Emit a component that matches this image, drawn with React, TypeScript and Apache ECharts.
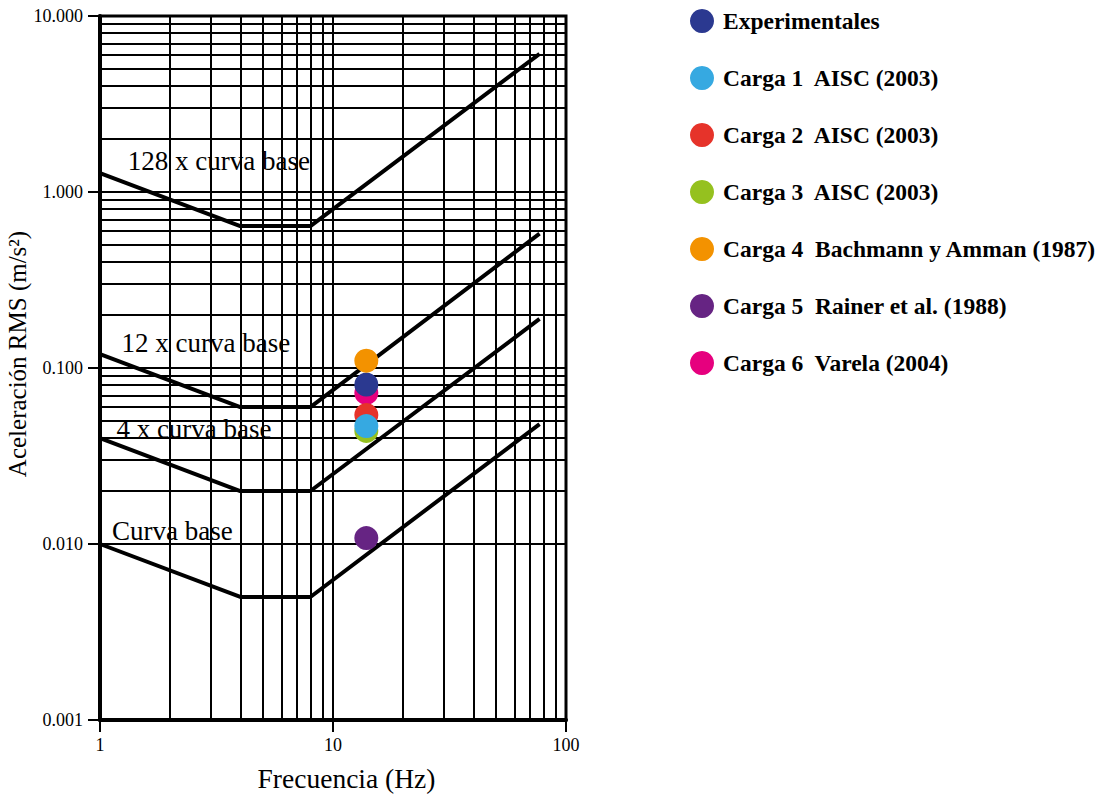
import React, { useEffect, useRef } from "react";
import * as echarts from "echarts";

const SERIF = "'Liberation Serif', 'Times New Roman', serif";

// Axis ticks / labels
const xTickLabels = ["1", "10", "100"];
const yTickLabels = ["0.001", "0.010", "0.100", "1.000", "10.000"];
// Log-paper minor grid positions
const xMinorGrid = [2, 3, 4, 5, 6, 7, 8, 9, 20, 30, 40, 50, 60, 70, 80, 90];
const yMinorGrid = [
  0.002, 0.003, 0.004, 0.005, 0.006, 0.007, 0.008, 0.009,
  0.02, 0.03, 0.04, 0.05, 0.06, 0.07, 0.08, 0.09,
  0.2, 0.3, 0.4, 0.5, 0.6, 0.7, 0.8, 0.9,
  2, 3, 4, 5, 6, 7, 8, 9,
];

// Curves [frequency Hz, acceleration m/s2]
const curveBase = [[1, 0.01], [4, 0.005], [8, 0.005], [77, 0.048]];
const curve4x = [[1, 0.04], [4, 0.02], [8, 0.02], [77, 0.19]];
const curve12x = [[1, 0.12], [4, 0.06], [8, 0.06], [77, 0.58]];
const curve128x = [[1, 1.28], [4, 0.64], [8, 0.64], [77, 6.1]];
const curveNames = ["Curva base", "4 x curva base", "12 x curva base", "128 x curva base"];
const curveLabelAt = [[1.12, 0.0118], [1.17, 0.0452], [1.23, 0.139], [1.31, 1.5]];

// Measured points
const legendNames = [
  "Experimentales",
  "Carga 1  AISC (2003)",
  "Carga 2  AISC (2003)",
  "Carga 3  AISC (2003)",
  "Carga 4  Bachmann y Amman (1987)",
  "Carga 5  Rainer et al. (1988)",
  "Carga 6  Varela (2004)",
];
const pointColors = ["#2b3990", "#36a9e1", "#e6332a", "#95c11f", "#f39200", "#662483", "#e6007e"];
const pointFreq = [13.9, 13.9, 13.9, 13.9, 13.9, 13.9, 13.9];
const pointAccel = [0.0805, 0.0468, 0.054, 0.0439, 0.11, 0.0108, 0.0722];
// drawing order (back to front)
const drawOrder = [6, 3, 2, 1, 0, 4, 5];

export default function App() {
  const ref = useRef<HTMLDivElement>(null);
  useEffect(() => {
    if (!ref.current) return;
    const chart = echarts.init(ref.current, undefined, { renderer: "svg" });
    const curves = [curveBase, curve4x, curve12x, curve128x];
    const curveSeries = curves.map((d, i) => ({
      type: "line",
      name: curveNames[i],
      data: d,
      showSymbol: false,
      symbol: "none",
      z: 3,
      silent: true,
      lineStyle: { color: "#000", width: 4 },
      markPoint: {
        silent: true,
        symbol: "circle",
        symbolSize: 1,
        itemStyle: { color: "rgba(0,0,0,0)" },
        label: {
          show: true,
          position: "right",
          distance: 0,
          formatter: curveNames[i],
          color: "#000",
          fontFamily: SERIF,
          fontSize: 27,
        },
        data: [{ coord: curveLabelAt[i] }],
      },
    }));
    const pointSeries = drawOrder.map((i) => ({
      type: "scatter",
      name: legendNames[i],
      data: [[pointFreq[i], pointAccel[i]]],
      symbol: "circle",
      symbolSize: 24,
      z: 5,
      itemStyle: { color: pointColors[i], opacity: 1 },
    }));
    chart.setOption({
      animation: false,
      backgroundColor: "#fff",
      grid: {
        left: 100,
        right: 538,
        top: 16,
        bottom: 74,
        show: true,
        borderColor: "#000",
        borderWidth: 3,
        backgroundColor: "transparent",
      },
      legend: {
        data: legendNames,
        orient: "vertical",
        left: 685,
        top: 4,
        itemWidth: 24,
        itemHeight: 24,
        itemGap: 33,
        icon: "circle",
        selectedMode: false,
        textStyle: {
          fontFamily: SERIF,
          fontWeight: "bold",
          fontSize: 23.5,
          color: "#000",
          lineHeight: 24,
          padding: [0, 0, 0, 4],
        },
      },
      xAxis: {
        type: "log",
        logBase: 10,
        min: 1,
        max: 100,
        name: "Frecuencia (Hz)",
        nameLocation: "middle",
        nameGap: 44,
        nameTextStyle: { fontFamily: SERIF, fontSize: 27.5, color: "#000", padding: [0, 0, 0, 27] },
        axisLine: { show: true, onZero: false, lineStyle: { color: "#000", width: 4 } },
        axisTick: { show: true, inside: false, length: 12, lineStyle: { color: "#000", width: 2 } },
        axisLabel: {
          margin: 16,
          fontFamily: SERIF,
          fontSize: 18,
          color: "#000",
          formatter: (v: number) => xTickLabels[Math.round(Math.log10(v))] ?? String(v),
        },
        splitLine: { show: true, lineStyle: { color: "#000", width: 2 } },
      },
      yAxis: {
        type: "log",
        logBase: 10,
        min: 0.001,
        max: 10,
        name: "Aceleración RMS (m/s²)",
        nameLocation: "middle",
        nameGap: 64,
        nameRotate: 90,
        nameTextStyle: { fontFamily: SERIF, fontSize: 25, color: "#000", padding: [0, 0, 0, 28] },
        axisLine: { show: true, onZero: false, lineStyle: { color: "#000", width: 4 } },
        axisTick: { show: true, inside: false, length: 12, lineStyle: { color: "#000", width: 2 } },
        axisLabel: {
          margin: 17,
          fontFamily: SERIF,
          fontSize: 18,
          color: "#000",
          formatter: (v: number) => yTickLabels[Math.round(Math.log10(v)) + 3] ?? String(v),
        },
        splitLine: { show: true, lineStyle: { color: "#000", width: 2 } },
      },
      series: [
        {
          type: "line",
          name: "grid",
          data: [],
          z: 1,
          silent: true,
          markLine: {
            silent: true,
            symbol: ["none", "none"],
            label: { show: false },
            lineStyle: { color: "#000", width: 2, type: "solid" },
            emphasis: { disabled: true },
            data: [
              ...xMinorGrid.map((v) => ({ xAxis: v })),
              ...yMinorGrid.map((v) => ({ yAxis: v })),
            ],
          },
        },
        ...curveSeries,
        ...pointSeries,
      ],
    });
    return () => chart.dispose();
  }, []);
  return (
    <div
      ref={ref}
      style={{ position: "fixed", left: 0, top: 0, width: 1104, height: 797, background: "#fff" }}
    />
  );
}
